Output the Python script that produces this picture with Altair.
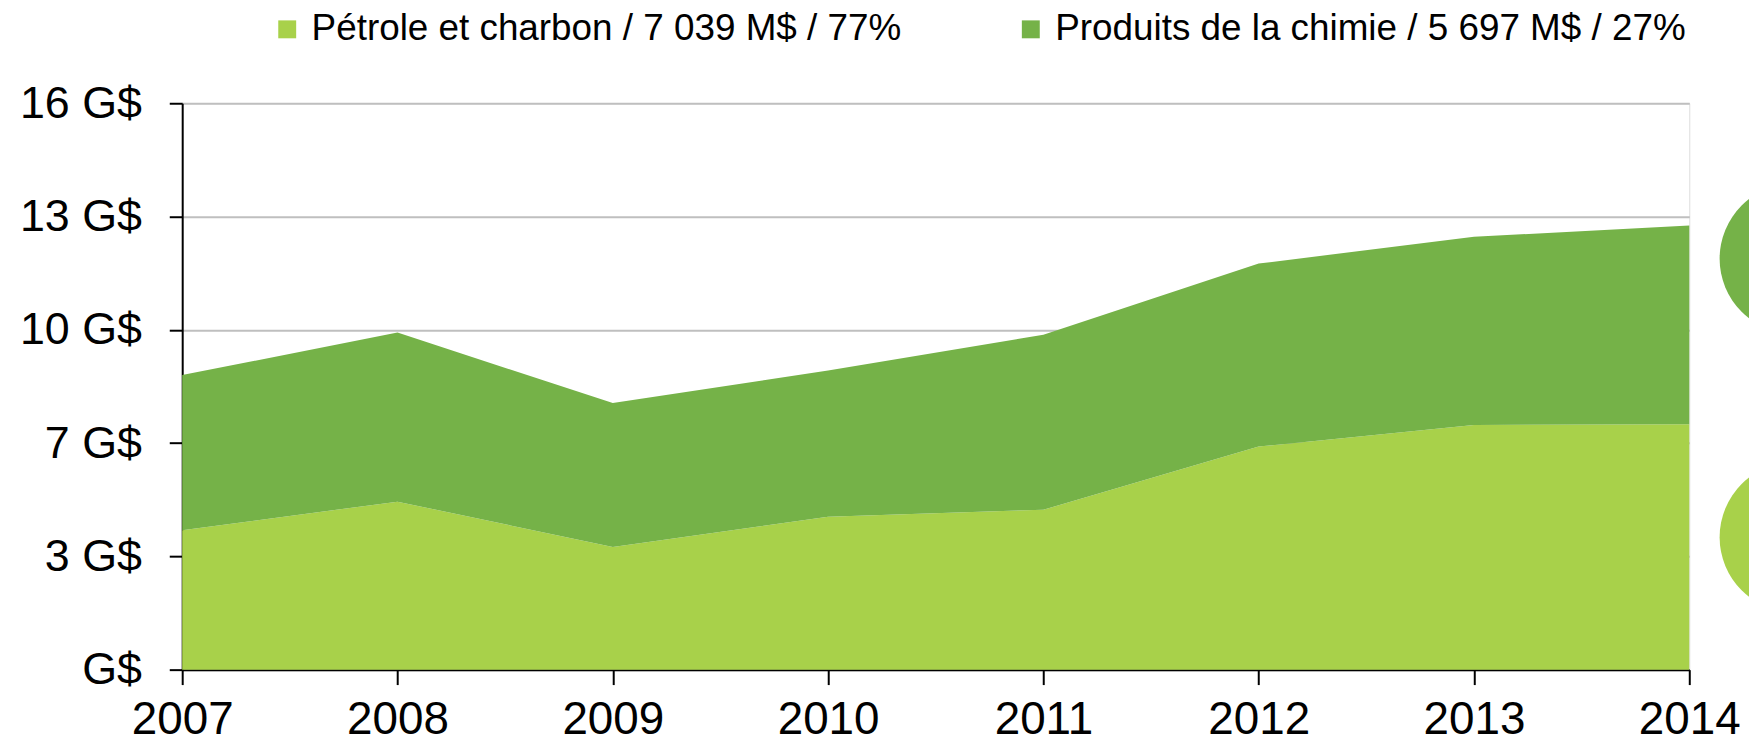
import altair as alt
import pandas as pd

# ---- data ----
years = [2007, 2008, 2009, 2010, 2011, 2012, 2013, 2014]
petrole = [4.00, 4.82, 3.52, 4.39, 4.59, 6.40, 7.02, 7.04]
chimie = [4.45, 4.85, 4.13, 4.19, 5.02, 5.25, 5.40, 5.70]
series_names = ["Pétrole et charbon / 7 039 M$ / 77%",
                "Produits de la chimie / 5 697 M$ / 27%"]
series_colors = ["#A8D14A", "#75B248"]
y_tick_values = [0, 3.25, 6.5, 9.75, 13, 16.25]
y_tick_labels = ["G$", "3 G$", "7 G$", "10 G$", "13 G$", "16 G$"]
marker_x = [2014.49, 2014.49]
marker_y = [3.80, 11.79]

FONT = "Liberation Sans"

rows = []
for i, y in enumerate(years):
    rows.append({"year": y, "value": petrole[i], "series": series_names[0], "ord": 0})
    rows.append({"year": y, "value": chimie[i], "series": series_names[1], "ord": 1})
df = pd.DataFrame(rows)

mk = pd.DataFrame({"x": marker_x, "y": marker_y, "color": series_colors})

label_expr = "".join(
    f"datum.value == {v} ? '{l}' : " for v, l in zip(y_tick_values, y_tick_labels)
) + "''"

xscale = alt.Scale(domain=[years[0], years[-1]], nice=False, zero=False)
yscale = alt.Scale(domain=[y_tick_values[0], y_tick_values[-1]], nice=False)

area = alt.Chart(df).mark_area(opacity=1, line=False).encode(
    x=alt.X("year:Q", scale=xscale,
            axis=alt.Axis(values=years, format="d", title=None, grid=False,
                          labelFontSize=46, labelFont=FONT, labelColor="black",
                          tickSize=15, tickWidth=2, tickColor="black",
                          domainColor="black", domainWidth=2,
                          labelPadding=13, labelFlush=False, labelOverlap=False,
                          labelBound=False)),
    y=alt.Y("value:Q", stack="zero", scale=yscale,
            axis=alt.Axis(values=y_tick_values, labelExpr=label_expr, title=None,
                          grid=True, gridColor="#BFBFBF", gridWidth=2,
                          labelFontSize=45, labelFont=FONT, labelColor="black",
                          tickSize=13, tickWidth=2, tickColor="black",
                          domainColor="black", domainWidth=2,
                          labelPadding=28, labelOverlap=False, labelBound=False)),
    color=alt.Color("series:N",
                    scale=alt.Scale(domain=series_names, range=series_colors),
                    legend=alt.Legend(orient="none", legendX=87, legendY=-93,
                                      direction="horizontal", title=None,
                                      symbolType="square", symbolSize=324,
                                      symbolStrokeWidth=0, symbolOpacity=1,
                                      labelFontSize=37, labelFont=FONT,
                                      labelColor="black", labelOffset=6,
                                      labelLimit=2000, columnPadding=111,
                                      padding=0)),
    order=alt.Order("ord:Q"),
)

markers = alt.Chart(mk).mark_circle(size=22800, opacity=1).encode(
    x=alt.X("x:Q", scale=xscale),
    y=alt.Y("y:Q", scale=yscale),
    color=alt.Color("color:N", scale=None),
)

chart = alt.layer(area, markers).properties(
    width=1514, height=569,
    autosize=alt.AutoSizeParams(type="none"),
    padding={"left": 175, "top": 94, "right": 60, "bottom": 72},
).configure_view(stroke=None).configure(background="white")

chart.save("out.html", embed_options={"renderer": "svg", "actions": False})
